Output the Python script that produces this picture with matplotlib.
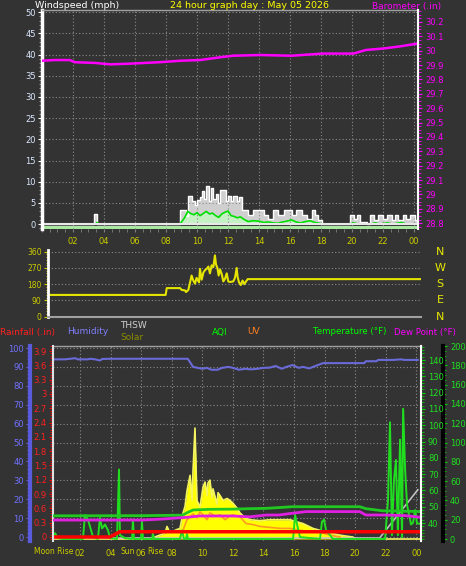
import matplotlib
matplotlib.use("Agg")
import matplotlib.pyplot as plt
import matplotlib.transforms as mtransforms
from matplotlib.ticker import MultipleLocator, FuncFormatter

W, H = 466, 566
BG = '#333333'
GRID = '#8a8a8a'
DOT = (0, (1, 2))
TICKYEL = '#cccc00'

plt.rcParams['font.family'] = ['DejaVu Sans']

HOUR_TICKS = [2, 4, 6, 8, 10, 12, 14, 16, 18, 20, 22, 24]
HOUR_LABELS = ['02', '04', '06', '08', '10', '12', '14', '16', '18', '20', '22', '00']

# ---- wind speed (mph) ----
GUST_H = [0.0, 3.38, 3.58, 8.9, 9.1, 9.3, 9.4, 9.66, 9.87, 9.98, 10.2, 10.3, 10.45, 10.6, 10.77,
          10.88, 11.05, 11.2, 11.38, 11.5, 11.7, 11.87, 12.0, 12.2, 12.35, 12.56, 12.73, 12.88,
          13.1, 13.3, 13.6, 13.96, 14.3, 14.6, 14.9, 15.25, 15.6, 15.9, 16.1, 16.4, 16.75, 17.1,
          17.4, 17.6, 17.83, 18.04, 19.76, 19.87, 20.1, 20.3, 20.5, 20.95, 21.16, 21.4, 21.7,
          22.0, 22.24, 22.56, 22.8, 23.0, 23.3, 23.5, 23.75, 24.06, 24.26]
GUST = [0, 2.4, 0, 3.4, 3.4, 2.0, 6.7, 5.5, 4.5, 5.6, 6.3, 7.7, 6.0, 9.1, 5.5,
        8.5, 6.0, 7.0, 5.0, 8.0, 8.0, 5.5, 6.7, 5.4, 6.7, 5.5, 6.5, 3.4,
        3.4, 2.2, 3.4, 3.4, 2.2, 1.2, 3.4, 2.2, 3.4, 3.4, 2.2, 3.4, 2.2, 1.2,
        3.4, 2.2, 1.0, 0, 0, 2.2, 1.2, 2.2, 0.5, 0, 2.2, 1.0, 2.2,
        1.2, 2.2, 1.0, 2.2, 1.0, 2.2, 1.2, 2.2, 1.0, 1.0]
AVG_H = [0.0, 3.45, 3.55, 3.65, 8.9, 9.2, 9.4, 9.6, 9.8, 10.0, 10.2, 10.4, 10.6, 10.8, 11.0,
         11.2, 11.4, 11.6, 11.8, 12.0, 12.2, 12.4, 12.6, 12.8, 13.0, 13.3, 13.6, 14.0, 14.3,
         14.6, 14.9, 15.2, 15.5, 15.8, 16.1, 16.4, 16.7, 17.0, 17.3, 17.6, 17.9, 18.1, 19.8,
         20.1, 20.4, 21.2, 21.5, 21.8, 22.3, 22.6, 23.2, 23.5, 24.26]
AVG = [0, 0, 0.4, 0, 0, 1.5, 3.0, 2.5, 2.2, 2.7, 2.0, 2.5, 3.0, 2.4, 2.6,
       2.0, 1.6, 2.4, 2.8, 3.1, 2.0, 1.8, 1.5, 1.7, 1.2, 0.6, 0.8, 0.7, 0.4,
       0.5, 0.3, 0.2, 0.5, 0.7, 1.0, 0.5, 0.3, 0.6, 0.8, 0.4, 0.2, 0, 0,
       0.3, 0, 0, 0.3, 0, 0.3, 0, 0.4, 0, 0]

# ---- barometer (in) ----
BARO_H = [0.0, 0.8, 1.8, 2.1, 3.4, 4.4, 5.7, 7.6, 8.9, 10.2, 11.2, 12.3, 14.1, 16.1, 18.1,
          20.1, 20.9, 22.0, 23.1, 24.26]
BARO = [29.93, 29.935, 29.935, 29.92, 29.915, 29.905, 29.91, 29.92, 29.93, 29.935, 29.95,
        29.965, 29.97, 29.965, 29.98, 29.98, 30.005, 30.015, 30.03, 30.05]
BARO_TICKS = [28.8, 28.9, 29.0, 29.1, 29.2, 29.3, 29.4, 29.5, 29.6, 29.7, 29.8, 29.9,
              30.0, 30.1, 30.2]

# ---- wind direction (deg) ----
DIR_H = [0.13, 7.57, 7.64, 8.5, 8.6, 8.82, 8.88, 9.03, 9.24, 9.35, 9.46, 9.56, 9.72, 9.78,
         9.89, 10.0, 10.1, 10.21, 10.32, 10.42, 10.53, 10.64, 10.74, 10.81, 10.9, 10.98,
         11.07, 11.18, 11.28, 11.39, 11.5, 11.6, 11.71, 11.92, 12.03, 12.14, 12.2, 12.29,
         12.4, 12.52, 12.63, 12.74, 12.85, 24.0]
DIR = [120, 120, 158, 158, 148, 145, 136, 148, 228, 200, 183, 215, 190, 265,
       205, 245, 258, 265, 278, 240, 285, 275, 340, 290, 270, 228,
       262, 235, 195, 210, 240, 195, 192, 195, 215, 270, 220, 190,
       175, 200, 180, 195, 208, 208]
COMPASS = ['N', 'W', 'S', 'E', 'N']
COMPASS_DEG = [360, 270, 180, 90, 0]

# ---- humidity (%) ----
HUM_H = [0.25, 1.0, 1.7, 1.85, 2.5, 2.65, 3.0, 3.3, 3.45, 4.0, 6.0, 8.0, 9.05, 9.4, 9.7,
         10.0, 10.3, 10.6, 11.0, 11.3, 11.7, 12.0, 12.4, 12.8, 13.2, 13.6, 14.0, 14.4, 14.8,
         15.2, 15.5, 15.9, 16.3, 16.6, 17.0, 17.4, 17.9, 18.5, 19.5, 20.6, 20.7, 21.4, 21.5,
         22.5, 23.0, 23.2, 24.1]
HUM = [94, 94, 94.6, 94, 94, 94.3, 94, 93.4, 94.2, 94.3, 94.3, 94.3, 94.3, 90, 89.5,
       89, 89.5, 88.5, 88.5, 89.5, 90, 89.5, 88.5, 89, 88.7, 89, 89.5, 89.6, 90.5,
       89, 90, 91, 89.5, 90, 89.2, 90.5, 92, 92, 92, 92, 93, 93, 93.7,
       93.7, 94, 93.7, 93.7]

# ---- temperature / dew point (F) ----
TEMP_H = [0.23, 6.1, 8.7, 9.0, 9.4, 10.5, 12.0, 13.1, 14.2, 14.9, 15.9, 16.8, 18.0, 20.3,
          20.7, 21.8, 23.0, 24.3]
TEMP = [44.4, 44.5, 44.8, 46.3, 48.0, 48.4, 48.5, 48.8, 49.0, 49.4, 50.0, 50.0, 50.0, 50.0,
        48.8, 47.5, 47.3, 47.0]
DEW_H = [0.23, 6.1, 7.5, 9.0, 9.8, 11.0, 12.0, 13.1, 14.2, 15.0, 15.9, 16.8, 18.0, 20.3,
         20.7, 22.0, 23.3, 24.3]
DEW = [41.8, 41.8, 42.5, 43.5, 44.3, 44.3, 44.3, 43.8, 44.9, 44.9, 46.0, 47.0, 47.0, 47.0,
       44.9, 44.9, 44.5, 43.5]

# ---- rainfall (in) ----
RAIN_H = [0.23, 3.96, 4.6, 24.3]
RAIN = [0.0, 0.0, 0.11, 0.11]
RAIN_TICKS = [0, 0.3, 0.6, 0.9, 1.2, 1.5, 1.8, 2.1, 2.4, 2.7, 3.0, 3.3, 3.6, 3.9]

# ---- solar / uv / thsw / aqi (right scale) ----
SOLAR_H = [0.23, 6.58, 7.04, 7.56, 7.69, 7.89, 8.21, 8.54, 8.74, 8.87, 9.0, 9.2, 9.33, 9.39,
           9.52, 9.65, 9.85, 10.05, 10.18, 10.31, 10.37, 10.5, 10.63, 10.7, 10.96, 11.03,
           11.16, 11.36, 11.62, 11.81, 12.01, 12.27, 12.47, 12.8, 13.12, 13.78, 14.43, 15.09,
           15.74, 16.13, 16.59, 17.24, 17.7, 18.1, 19.01, 19.86, 20.06, 24.3]
SOLAR = [0, 0, 3, 6, 13, 6, 9, 11, 27, 34, 50, 66, 40, 70,
         115, 40, 33, 54, 59, 45, 58, 61, 43, 52, 36, 48,
         45, 40, 42, 40, 37, 32, 27, 22, 20, 19, 20, 20,
         20, 18, 16, 11, 9, 7, 4, 2, 0, 0]
UV_H = [8.54, 8.74, 9.0, 9.39, 9.65, 9.85, 10.05, 10.31, 10.5, 10.83, 11.16, 11.49, 11.81,
        12.01, 12.47, 12.86, 13.32, 13.78, 14.43, 15.09, 15.74, 16.39, 17.05, 17.7, 18.36,
        19.01]
UV = [2, 9, 20, 26, 22, 28, 25, 20, 27, 24, 25, 20, 24,
      25, 23, 16, 15, 13, 12, 11, 11, 9, 8, 7, 4,
      2]
THSW_H = [0.23, 21.6, 24.1]
THSW = [1, 1, 51]
AQI_H = [0.23, 0.36, 0.56, 0.82, 2.19, 2.32, 2.52, 2.85, 3.17, 3.30, 3.44, 3.63, 3.83, 3.96,
         4.42, 4.55, 4.61, 4.94, 5.40, 5.46, 5.53, 5.99, 6.05, 6.12, 6.71, 6.77, 6.84, 8.54,
         8.67, 8.80, 8.93, 9.0, 9.06, 15.94, 16.07, 16.20, 16.39, 17.70, 17.83, 17.96, 18.10,
         18.36, 18.55, 21.96, 22.15, 22.28, 22.41, 22.54, 22.67, 22.80, 22.94, 23.07, 23.14,
         23.27, 23.40, 23.53, 23.66, 23.79, 23.92, 24.05, 24.3]
AQI = [2, 6, 1, 0, 0, 25, 20, 2, 0, 22, 11, 15, 9, 1,
       0, 72, 4, 1, 0, 20, 0, 0, 18, 0, 0, 6, 0, 0,
       9, 0, 0, 5, 0, 0, 25, 15, 2, 0, 18, 20, 9,
       4, 0, 0, 40, 121, 4, 61, 82, 4, 103, 2, 135,
       72, 35, 25, 15, 17, 30, 16, 16]


def px_box(x0, y0, x1, y1):
    return [x0 / W, 1 - y1 / H, (x1 - x0) / W, (y1 - y0) / H]


def px_text(x, y, s, color, size=7, ha='left'):
    fig.text(x / W, 1 - y / H, s, color=color, fontsize=size, ha=ha, va='center')


def set_spines(ax, **kw):
    for name, sp in ax.spines.items():
        if name in kw:
            sp.set_visible(True)
            sp.set_color(kw[name][0])
            sp.set_linewidth(kw[name][1])
        else:
            sp.set_visible(False)


fig = plt.figure(figsize=(W / 100, H / 100), dpi=100, facecolor=BG)

# ================= top panel: wind speed + barometer =================
ax_w = fig.add_axes(px_box(42, 10, 418, 229), facecolor=BG)
ax_w.set_xlim(0, 24.26)
ax_w.set_ylim(-1.15, 50.5)
ax_w.grid(True, which='major', color=GRID, linestyle=DOT, lw=0.8)
ax_w.set_xticks(HOUR_TICKS, HOUR_LABELS)
ax_w.xaxis.set_minor_locator(MultipleLocator(0.5))
ax_w.set_yticks(range(0, 51, 5))
ax_w.yaxis.set_minor_locator(MultipleLocator(1))
ax_w.tick_params(axis='x', which='both', colors='#808080', length=2, labelcolor=TICKYEL,
                 labelsize=6, pad=3.5)
ax_w.tick_params(axis='y', which='major', colors='white', length=3, labelcolor='#dce8ff',
                 labelsize=6, pad=1.5)
ax_w.tick_params(axis='y', which='minor', colors='#a0a0a0', length=2)
set_spines(ax_w, left=('white', 2.5), top=('#a0a0a0', 1))

ax_w.axhspan(-1.15, -0.55, color='#a8e8a0', lw=0)
ax_w.fill_between(GUST_H, GUST, step='post', color='#cfcfcf', lw=0)
ax_w.step(GUST_H, GUST, where='post', color='white', lw=1)
ax_w.fill_between(AVG_H, AVG, color='#c4f0c4', lw=0)
ax_w.plot(AVG_H, AVG, color='#00e000', lw=1.2)
ax_w.axhline(0, color='#e8e8e8', lw=1.5)

ax_b = ax_w.twinx()
ax_b.set_ylim(28.76, 30.283)
ax_b.set_yticks(BARO_TICKS)
ax_b.yaxis.set_major_formatter(FuncFormatter(lambda v, p: f'{v:.1f}'.rstrip('0').rstrip('.')))
ax_b.yaxis.set_minor_locator(MultipleLocator(0.025))
ax_b.tick_params(axis='y', which='major', colors='#ff00ff', length=3, labelcolor='#ff00ff',
                 labelsize=6, pad=2)
ax_b.tick_params(axis='y', which='minor', colors='#ff00ff', length=2)
set_spines(ax_b, right=('white', 1.5))
ax_b.plot(BARO_H, BARO, color='#ff00ff', lw=1.8)

px_text(35, 6, 'Windspeed (mph)', 'white', size=6.8)
px_text(250, 6, '24 hour graph day : May 05 2026', '#ffff00', size=6.8, ha='center')
px_text(372, 6, 'Barometer (.in)', '#ff00ff', size=6.5)

# ================= middle panel: wind direction =================
ax_d = fig.add_axes(px_box(48, 250, 421, 317.4), facecolor=BG)
ax_d.set_xlim(0, 24.0)
ax_d.set_ylim(-5, 370)
ax_d.set_xticks([])
ax_d.set_yticks([0, 90, 180, 270, 360])
ax_d.yaxis.set_minor_locator(MultipleLocator(15))
ax_d.grid(True, axis='y', color=GRID, linestyle=DOT, lw=0.8)
ax_d.tick_params(axis='y', which='major', colors=TICKYEL, length=3, labelsize=5.5, pad=1.5)
ax_d.tick_params(axis='y', which='minor', colors=TICKYEL, length=1.5)
set_spines(ax_d, left=('white', 2), bottom=('#a0a0a0', 1.5))
ax_d.plot(DIR_H, DIR, color='#e4e400', lw=1.5)
tr = mtransforms.blended_transform_factory(ax_d.transAxes, ax_d.transData)
for lab, deg in zip(COMPASS, COMPASS_DEG):
    ax_d.text((440 - 48) / 373, deg, lab, transform=tr, color='#e8e800', fontsize=8,
              ha='center', va='center')

# legend row
px_text(0, 332, 'Rainfall (.in)', '#ff2020', size=6.5)
px_text(67, 332, 'Humidity', '#8080ff', size=6.5)
px_text(120, 325, 'THSW', '#d0d0d0', size=6.5)
px_text(120, 337, 'Solar', '#8c8c00', size=6.5)
px_text(212, 333, 'AQI', '#00ff00', size=6.5)
px_text(247, 331, 'UV', '#ff8020', size=6.5)
px_text(313, 332, 'Temperature (\u00b0F)', '#00ff00', size=6.2)
px_text(394, 332, 'Dew Point (\u00b0F)', '#ff00ff', size=6.2)

# ================= bottom panel =================
ax_h = fig.add_axes(px_box(53, 346, 421, 541), facecolor=BG)
ax_h.set_xlim(0.23, 24.31)
ax_h.set_ylim(-2.1, 101.06)
ax_h.grid(True, which='major', color=GRID, linestyle=DOT, lw=0.8)
ax_h.set_xticks(HOUR_TICKS, HOUR_LABELS)
ax_h.set_yticks(range(0, 101, 10))
ax_h.yaxis.set_minor_locator(MultipleLocator(2))
ax_h.tick_params(axis='x', colors='#808080', length=0, labelcolor=TICKYEL, labelsize=6, pad=6)
ax_h.tick_params(axis='y', which='major', colors='#6060e0', length=3, labelcolor='#7070ff',
                 labelsize=6, pad=1.5)
ax_h.tick_params(axis='y', which='minor', colors='#6060e0', length=2)
set_spines(ax_h, left=('#5a5adc', 3), top=('#a0a0a0', 1))
ax_h.spines['left'].set_position(('axes', (30 - 53) / 368))
ax_h.plot(HUM_H, HUM, color='#6a6ad8', lw=1.5)

# right-most scale: solar, uv, thsw, aqi
ax_a = ax_h.twinx()
ax_a.set_ylim(-2.07, 200)
ax_a.set_yticks(range(0, 201, 20))
ax_a.yaxis.set_minor_locator(MultipleLocator(5))
ax_a.tick_params(axis='y', which='major', colors='#00d000', length=3, labelcolor='#20e020',
                 labelsize=6, pad=2)
ax_a.tick_params(axis='y', which='minor', colors='#00d000', length=2)
set_spines(ax_a, right=('black', 3))
ax_a.spines['right'].set_position(('axes', (443 - 53) / 368))
ax_a.fill_between(SOLAR_H, SOLAR, color='#ffff00', lw=0)
ax_a.plot(SOLAR_H, SOLAR, color='#f4f460', lw=1.2)
ax_a.plot(THSW_H, THSW, color='#c0c0c0', lw=1.2)
ax_a.plot(UV_H, UV, color='#ff9a20', lw=1.2)
ax_a.plot(AQI_H, AQI, color='#20dd20', lw=1.4)

# rainfall scale
ax_r = ax_h.twinx()
ax_r.set_ylim(-0.084, 4.005)
ax_r.yaxis.tick_left()
ax_r.set_yticks(RAIN_TICKS)
ax_r.yaxis.set_major_formatter(FuncFormatter(lambda v, p: f'{v:g}'))
ax_r.yaxis.set_minor_locator(MultipleLocator(0.05))
ax_r.tick_params(axis='y', which='major', colors='#ff0000', length=3, labelcolor='#ff2020',
                 labelsize=6, pad=1.5)
ax_r.tick_params(axis='y', which='minor', colors='#ff0000', length=2)
set_spines(ax_r, left=('#e0e0e0', 1.5))
ax_r.plot(RAIN_H, RAIN, color='#ff0000', lw=2.5)

# temperature scale
ax_t = ax_h.twinx()
ax_t.set_ylim(28.96, 148.6)
ax_t.set_yticks(range(40, 141, 10))
ax_t.yaxis.set_minor_locator(MultipleLocator(2))
ax_t.tick_params(axis='y', which='major', colors='#00d000', length=3, labelcolor='#20e020',
                 labelsize=6, pad=2)
ax_t.tick_params(axis='y', which='minor', colors='#00d000', length=2)
set_spines(ax_t, right=('white', 1.5))
ax_t.plot(TEMP_H, TEMP, color='#22c822', lw=2)
ax_t.plot(DEW_H, DEW, color='#e020e0', lw=2)

px_text(73, 552, 'Moon Rise', TICKYEL, size=5.5, ha='right')
px_text(135, 552, 'Sun', TICKYEL, size=5.5, ha='right')
px_text(147, 552, 'Rise', TICKYEL, size=5.5, ha='left')

fig.savefig('out.png', dpi=100, facecolor=BG)
